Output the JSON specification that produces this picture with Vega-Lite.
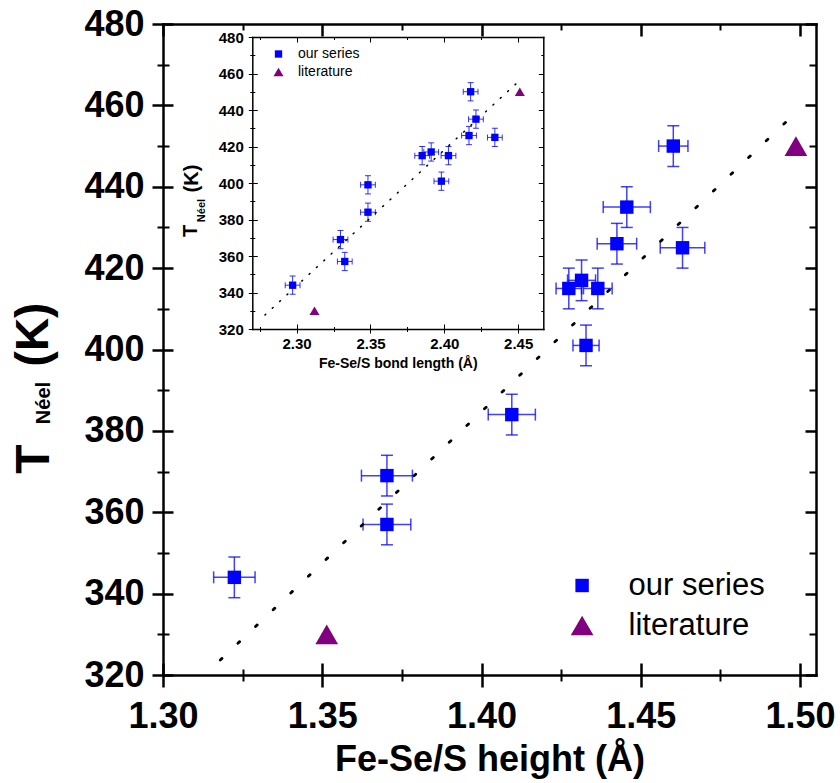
{
  "$schema": "https://vega.github.io/schema/vega-lite/v6.json",
  "width": 653,
  "height": 651,
  "autosize": {"type": "none"},
  "padding": {"left": 163, "top": 24, "right": 24, "bottom": 108},
  "background": "white",
  "config": {
    "view": {"stroke": null},
    "axis": {"grid": false, "labelFont": "Liberation Sans", "titleFont": "Liberation Sans", "labelColor": "black", "titleColor": "black", "tickColor": "black", "domainColor": "black", "labelFlush": false, "labelOverlap": false}
  },
  "datasets": {
    "mainOurs": [
      {"x": 1.3224, "y": 344, "xlo": 1.3159, "xhi": 1.3289, "ylo": 339, "yhi": 349},
      {"x": 1.3703, "y": 369, "xlo": 1.3623, "xhi": 1.3783, "ylo": 364, "yhi": 374},
      {"x": 1.3703, "y": 357, "xlo": 1.3628, "xhi": 1.3778, "ylo": 352, "yhi": 362},
      {"x": 1.4095, "y": 384, "xlo": 1.4021, "xhi": 1.4169, "ylo": 379, "yhi": 389},
      {"x": 1.4328, "y": 401, "xlo": 1.4287, "xhi": 1.4369, "ylo": 396, "yhi": 406},
      {"x": 1.4274, "y": 415, "xlo": 1.4234, "xhi": 1.4314, "ylo": 410, "yhi": 420},
      {"x": 1.4314, "y": 417, "xlo": 1.4270, "xhi": 1.4358, "ylo": 412, "yhi": 422},
      {"x": 1.4365, "y": 415, "xlo": 1.4320, "xhi": 1.4410, "ylo": 410, "yhi": 420},
      {"x": 1.4425, "y": 426, "xlo": 1.4363, "xhi": 1.4487, "ylo": 421, "yhi": 431},
      {"x": 1.4456, "y": 435, "xlo": 1.4382, "xhi": 1.4530, "ylo": 430, "yhi": 440},
      {"x": 1.4602, "y": 450, "xlo": 1.4556, "xhi": 1.4648, "ylo": 445, "yhi": 455},
      {"x": 1.4631, "y": 425, "xlo": 1.4561, "xhi": 1.4701, "ylo": 420, "yhi": 430}
    ],
    "mainPts": [
      {"x": 1.3224, "y": 344, "series": "our series"},
      {"x": 1.3703, "y": 369, "series": "our series"},
      {"x": 1.3703, "y": 357, "series": "our series"},
      {"x": 1.4095, "y": 384, "series": "our series"},
      {"x": 1.4328, "y": 401, "series": "our series"},
      {"x": 1.4274, "y": 415, "series": "our series"},
      {"x": 1.4314, "y": 417, "series": "our series"},
      {"x": 1.4365, "y": 415, "series": "our series"},
      {"x": 1.4425, "y": 426, "series": "our series"},
      {"x": 1.4456, "y": 435, "series": "our series"},
      {"x": 1.4602, "y": 450, "series": "our series"},
      {"x": 1.4631, "y": 425, "series": "our series"},
      {"x": 1.3514, "y": 330, "series": "literature"},
      {"x": 1.4987, "y": 450, "series": "literature"}
    ],
    "mainFit": [{"x": 1.318, "y": 323.7}, {"x": 1.5, "y": 459.2}],
    "insetOurs": [
      {"x": 2.2973, "y": 344, "xlo": 2.2923, "xhi": 2.3023, "ylo": 339, "yhi": 349},
      {"x": 2.3297, "y": 369, "xlo": 2.3247, "xhi": 2.3347, "ylo": 364, "yhi": 374},
      {"x": 2.3326, "y": 357, "xlo": 2.3276, "xhi": 2.3376, "ylo": 352, "yhi": 362},
      {"x": 2.3483, "y": 399, "xlo": 2.3433, "xhi": 2.3533, "ylo": 394, "yhi": 404},
      {"x": 2.3483, "y": 384, "xlo": 2.3433, "xhi": 2.3533, "ylo": 379, "yhi": 389},
      {"x": 2.3850, "y": 415, "xlo": 2.3800, "xhi": 2.3900, "ylo": 410, "yhi": 420},
      {"x": 2.3911, "y": 417, "xlo": 2.3861, "xhi": 2.3961, "ylo": 412, "yhi": 422},
      {"x": 2.4028, "y": 415, "xlo": 2.3978, "xhi": 2.4078, "ylo": 410, "yhi": 420},
      {"x": 2.3980, "y": 401, "xlo": 2.3930, "xhi": 2.4030, "ylo": 396, "yhi": 406},
      {"x": 2.4167, "y": 426, "xlo": 2.4117, "xhi": 2.4217, "ylo": 421, "yhi": 431},
      {"x": 2.4214, "y": 435, "xlo": 2.4164, "xhi": 2.4264, "ylo": 430, "yhi": 440},
      {"x": 2.4178, "y": 450, "xlo": 2.4128, "xhi": 2.4228, "ylo": 445, "yhi": 455},
      {"x": 2.4342, "y": 425, "xlo": 2.4292, "xhi": 2.4392, "ylo": 420, "yhi": 430}
    ],
    "insetPts": [
      {"x": 2.2973, "y": 344, "series": "our series"},
      {"x": 2.3297, "y": 369, "series": "our series"},
      {"x": 2.3326, "y": 357, "series": "our series"},
      {"x": 2.3483, "y": 399, "series": "our series"},
      {"x": 2.3483, "y": 384, "series": "our series"},
      {"x": 2.3850, "y": 415, "series": "our series"},
      {"x": 2.3911, "y": 417, "series": "our series"},
      {"x": 2.4028, "y": 415, "series": "our series"},
      {"x": 2.3980, "y": 401, "series": "our series"},
      {"x": 2.4167, "y": 426, "series": "our series"},
      {"x": 2.4214, "y": 435, "series": "our series"},
      {"x": 2.4178, "y": 450, "series": "our series"},
      {"x": 2.4342, "y": 425, "series": "our series"},
      {"x": 2.3121, "y": 330, "series": "literature"},
      {"x": 2.4511, "y": 450, "series": "literature"}
    ],
    "insetFit": [{"x": 2.2786, "y": 327.7}, {"x": 2.4522, "y": 457.1}]
  },
  "resolve": {"scale": {"x": "independent", "y": "independent", "color": "independent", "shape": "independent", "size": "independent"}},
  "layer": [
    {
      "resolve": {"axis": {"x": "independent", "y": "independent"}},
      "layer": [
        {
          "data": {"name": "mainOurs"},
          "mark": {"type": "rule", "color": "#0000ff", "strokeWidth": 1.5, "opacity": 0.75},
          "encoding": {
            "x": {"field": "x", "type": "quantitative", "scale": {"domain": [1.3, 1.505], "nice": false, "zero": false},
              "axis": {"orient": "bottom", "values": [1.3, 1.35, 1.4, 1.45, 1.5], "format": ".2f", "tickSize": 12, "tickWidth": 2.5, "domain": true, "domainWidth": 2.5, "domainCap": "square", "labelFontSize": 36, "labelFontWeight": "bold", "labelPadding": 12, "title": "Fe-Se/S height (Å)", "titleFontSize": 36, "titleFontWeight": "bold", "titlePadding": 8}},
            "y": {"field": "ylo", "type": "quantitative", "scale": {"domain": [320, 480], "nice": false, "zero": false},
              "axis": {"orient": "left", "values": [320, 340, 360, 380, 400, 420, 440, 460, 480], "tickSize": 11, "tickWidth": 2.5, "domain": true, "domainWidth": 2.5, "domainCap": "square", "labelFontSize": 36, "labelFontWeight": "bold", "labelPadding": 8, "title": "T", "titleFontSize": 48, "titleFontWeight": "bold", "titleAngle": -90, "titleX": -115, "titleY": 434.5, "titleAlign": "center", "titleBaseline": "alphabetic"}},
            "y2": {"field": "yhi"}
          }
        },
        {
          "data": {"name": "mainOurs"},
          "mark": {"type": "rule", "color": "#0000ff", "strokeWidth": 1.5, "opacity": 0.75},
          "encoding": {
            "x": {"field": "xlo", "type": "quantitative", "scale": {"domain": [1.3, 1.505], "nice": false, "zero": false},
              "axis": {"orient": "bottom", "values": [1.3, 1.35, 1.4, 1.45, 1.5], "tickSize": -12, "tickWidth": 2.5, "domain": false, "labels": false, "title": null}},
            "x2": {"field": "xhi"},
            "y": {"field": "y", "type": "quantitative", "scale": {"domain": [320, 480], "nice": false, "zero": false},
              "axis": {"orient": "left", "values": [320, 340, 360, 380, 400, 420, 440, 460, 480], "tickSize": -10, "tickWidth": 2.5, "domain": false, "labels": false, "title": "(K)", "titleFontSize": 46, "titleFontWeight": "bold", "titleAngle": -90, "titleX": -116, "titleY": 310, "titleAlign": "center", "titleBaseline": "alphabetic"}}
          }
        },
        {
          "data": {"name": "mainOurs"},
          "mark": {"type": "tick", "orient": "horizontal", "color": "#0000ff", "size": 12, "thickness": 1.5, "opacity": 0.75},
          "encoding": {
            "x": {"field": "x", "type": "quantitative", "scale": {"domain": [1.3, 1.505], "nice": false, "zero": false},
              "axis": {"orient": "bottom", "values": [1.325, 1.375, 1.425, 1.475], "tickSize": 6, "tickWidth": 2, "domain": false, "labels": false, "title": null}},
            "y": {"field": "ylo", "type": "quantitative", "scale": {"domain": [320, 480], "nice": false, "zero": false},
              "axis": {"orient": "left", "values": [330, 350, 370, 390, 410, 430, 450, 470], "tickSize": 6, "tickWidth": 2, "domain": false, "labels": false, "title": "Néel", "titleFontSize": 20, "titleFontWeight": "bold", "titleAngle": -90, "titleX": -114, "titleY": 378.5, "titleAlign": "center", "titleBaseline": "alphabetic"}}
          }
        },
        {
          "data": {"name": "mainOurs"},
          "mark": {"type": "tick", "orient": "horizontal", "color": "#0000ff", "size": 12, "thickness": 1.5, "opacity": 0.75},
          "encoding": {
            "x": {"field": "x", "type": "quantitative", "scale": {"domain": [1.3, 1.505], "nice": false, "zero": false},
              "axis": {"orient": "bottom", "values": [1.325, 1.375, 1.425, 1.475], "tickSize": -6, "tickWidth": 2, "domain": false, "labels": false, "title": null}},
            "y": {"field": "yhi", "type": "quantitative", "scale": {"domain": [320, 480], "nice": false, "zero": false},
              "axis": {"orient": "left", "values": [330, 350, 370, 390, 410, 430, 450, 470], "tickSize": -6, "tickWidth": 2, "domain": false, "labels": false, "title": null}}
          }
        },
        {
          "data": {"name": "mainOurs"},
          "mark": {"type": "tick", "orient": "vertical", "color": "#0000ff", "size": 12, "thickness": 1.5, "opacity": 0.75},
          "encoding": {
            "x": {"field": "xlo", "type": "quantitative", "scale": {"domain": [1.3, 1.505], "nice": false, "zero": false},
              "axis": {"orient": "top", "values": [1.3, 1.35, 1.4, 1.45, 1.5], "tickSize": -12, "tickWidth": 2.5, "domain": true, "domainWidth": 2.5, "domainCap": "square", "labels": false, "title": null}},
            "y": {"field": "y", "type": "quantitative", "scale": {"domain": [320, 480], "nice": false, "zero": false},
              "axis": {"orient": "right", "values": [320, 340, 360, 380, 400, 420, 440, 460, 480], "tickSize": -11, "tickWidth": 2.5, "domain": true, "domainWidth": 2.5, "domainCap": "square", "labels": false, "title": null}}
          }
        },
        {
          "data": {"name": "mainOurs"},
          "mark": {"type": "tick", "orient": "vertical", "color": "#0000ff", "size": 12, "thickness": 1.5, "opacity": 0.75},
          "encoding": {
            "x": {"field": "xhi", "type": "quantitative", "scale": {"domain": [1.3, 1.505], "nice": false, "zero": false},
              "axis": {"orient": "top", "values": [1.325, 1.375, 1.425, 1.475], "tickSize": -6, "tickWidth": 2, "domain": false, "labels": false, "title": null}},
            "y": {"field": "y", "type": "quantitative", "scale": {"domain": [320, 480], "nice": false, "zero": false},
              "axis": {"orient": "right", "values": [330, 350, 370, 390, 410, 430, 450, 470], "tickSize": -7, "tickWidth": 2, "domain": false, "labels": false, "title": null}}
          }
        },
        {
          "data": {"name": "mainFit"},
          "mark": {"type": "line", "color": "black", "strokeWidth": 2.8, "strokeDash": [2.3, 22], "strokeCap": "round"},
          "encoding": {
            "x": {"field": "x", "type": "quantitative", "scale": {"domain": [1.3, 1.505], "nice": false, "zero": false}, "axis": null},
            "y": {"field": "y", "type": "quantitative", "scale": {"domain": [320, 480], "nice": false, "zero": false}, "axis": null}
          }
        },
        {
          "data": {"name": "mainPts"},
          "mark": {"type": "point", "filled": true, "opacity": 1, "strokeWidth": 0},
          "encoding": {
            "x": {"field": "x", "type": "quantitative", "scale": {"domain": [1.3, 1.505], "nice": false, "zero": false}, "axis": null},
            "y": {"field": "y", "type": "quantitative", "scale": {"domain": [320, 480], "nice": false, "zero": false}, "axis": null},
            "color": {"field": "series", "type": "nominal", "scale": {"domain": ["our series", "literature"], "range": ["#0000ff", "#800080"]},
              "legend": {"title": null, "orient": "none", "direction": "vertical", "legendX": 403.6, "legendY": 546, "padding": 0, "labelFont": "Liberation Sans", "labelFontSize": 31, "labelColor": "black", "labelOffset": 31, "rowPadding": 8, "symbolStrokeWidth": 0, "symbolOpacity": 1}},
            "shape": {"field": "series", "type": "nominal", "scale": {"domain": ["our series", "literature"], "range": ["square", "triangle-up"]},
              "legend": {"title": null, "orient": "none", "direction": "vertical", "legendX": 403.6, "legendY": 546, "padding": 0, "labelFont": "Liberation Sans", "labelFontSize": 31, "labelColor": "black", "labelOffset": 31, "rowPadding": 8, "symbolStrokeWidth": 0, "symbolOpacity": 1}},
            "size": {"field": "series", "type": "nominal", "scale": {"domain": ["our series", "literature"], "range": [180, 515]},
              "legend": {"title": null, "orient": "none", "direction": "vertical", "legendX": 403.6, "legendY": 546, "padding": 0, "labelFont": "Liberation Sans", "labelFontSize": 31, "labelColor": "black", "labelOffset": 31, "rowPadding": 8, "symbolStrokeWidth": 0, "symbolOpacity": 1}}
          }
        }
      ]
    },
    {
      "resolve": {"axis": {"x": "independent", "y": "independent"}},
      "layer": [
        {
          "data": {"name": "insetOurs"},
          "mark": {"type": "rule", "color": "#0000ff", "strokeWidth": 1, "opacity": 0.8},
          "encoding": {
            "x": {"field": "x", "type": "quantitative", "scale": {"domain": [2.27, 2.467], "nice": false, "zero": false, "range": [89.3, 380.3]},
              "axis": {"orient": "bottom", "offset": -346, "values": [2.3, 2.35, 2.4, 2.45], "format": ".2f", "tickSize": 4, "tickWidth": 1, "domain": true, "domainWidth": 1.5, "domainCap": "square", "labelFontSize": 15, "labelFontWeight": "bold", "labelPadding": 3, "title": "Fe-Se/S bond length (Å)", "titleFontSize": 14, "titleFontWeight": "bold", "titlePadding": 5}},
            "y": {"field": "ylo", "type": "quantitative", "scale": {"domain": [320, 480], "nice": false, "zero": false, "range": [305, 13]},
              "axis": {"orient": "left", "offset": -89.3, "values": [320, 340, 360, 380, 400, 420, 440, 460, 480], "tickSize": 4, "tickWidth": 1, "domain": true, "domainWidth": 1.5, "domainCap": "square", "labelFontSize": 15, "labelFontWeight": "bold", "labelPadding": 5, "title": "T", "titleFontSize": 20, "titleFontWeight": "bold", "titleAngle": -90, "titleX": -56.3, "titleY": 206.5, "titleAlign": "center", "titleBaseline": "alphabetic"}},
            "y2": {"field": "yhi"}
          }
        },
        {
          "data": {"name": "insetOurs"},
          "mark": {"type": "rule", "color": "#0000ff", "strokeWidth": 1, "opacity": 0.8},
          "encoding": {
            "x": {"field": "xlo", "type": "quantitative", "scale": {"domain": [2.27, 2.467], "nice": false, "zero": false, "range": [89.3, 380.3]},
              "axis": {"orient": "bottom", "offset": -346, "values": [2.3, 2.35, 2.4, 2.45], "tickSize": -5, "tickWidth": 1, "domain": false, "labels": false, "title": null}},
            "x2": {"field": "xhi"},
            "y": {"field": "y", "type": "quantitative", "scale": {"domain": [320, 480], "nice": false, "zero": false, "range": [305, 13]},
              "axis": {"orient": "left", "offset": -89.3, "values": [320, 340, 360, 380, 400, 420, 440, 460, 480], "tickSize": -5, "tickWidth": 1, "domain": false, "labels": false, "title": "(K)", "titleFontSize": 20, "titleFontWeight": "bold", "titleAngle": -90, "titleX": -55, "titleY": 154, "titleAlign": "center", "titleBaseline": "alphabetic"}}
          }
        },
        {
          "data": {"name": "insetOurs"},
          "mark": {"type": "tick", "orient": "horizontal", "color": "#0000ff", "size": 6, "thickness": 1, "opacity": 0.8},
          "encoding": {
            "x": {"field": "x", "type": "quantitative", "scale": {"domain": [2.27, 2.467], "nice": false, "zero": false, "range": [89.3, 380.3]},
              "axis": {"orient": "bottom", "offset": -346, "values": [2.275, 2.325, 2.375, 2.425], "tickSize": 2.5, "tickWidth": 1, "domain": false, "labels": false, "title": null}},
            "y": {"field": "ylo", "type": "quantitative", "scale": {"domain": [320, 480], "nice": false, "zero": false, "range": [305, 13]},
              "axis": {"orient": "left", "offset": -89.3, "values": [330, 350, 370, 390, 410, 430, 450, 470], "tickSize": 2.5, "tickWidth": 1, "domain": false, "labels": false, "title": "Néel", "titleFontSize": 11, "titleFontWeight": "bold", "titleAngle": -90, "titleX": -48.3, "titleY": 186, "titleAlign": "center", "titleBaseline": "alphabetic"}}
          }
        },
        {
          "data": {"name": "insetOurs"},
          "mark": {"type": "tick", "orient": "horizontal", "color": "#0000ff", "size": 6, "thickness": 1, "opacity": 0.8},
          "encoding": {
            "x": {"field": "x", "type": "quantitative", "scale": {"domain": [2.27, 2.467], "nice": false, "zero": false, "range": [89.3, 380.3]},
              "axis": {"orient": "bottom", "offset": -346, "values": [2.275, 2.325, 2.375, 2.425], "tickSize": -2.5, "tickWidth": 1, "domain": false, "labels": false, "title": null}},
            "y": {"field": "yhi", "type": "quantitative", "scale": {"domain": [320, 480], "nice": false, "zero": false, "range": [305, 13]},
              "axis": {"orient": "left", "offset": -89.3, "values": [330, 350, 370, 390, 410, 430, 450, 470], "tickSize": -2.5, "tickWidth": 1, "domain": false, "labels": false, "title": null}}
          }
        },
        {
          "data": {"name": "insetOurs"},
          "mark": {"type": "tick", "orient": "vertical", "color": "#0000ff", "size": 6, "thickness": 1, "opacity": 0.8},
          "encoding": {
            "x": {"field": "xlo", "type": "quantitative", "scale": {"domain": [2.27, 2.467], "nice": false, "zero": false, "range": [89.3, 380.3]},
              "axis": {"orient": "top", "offset": -13, "values": [2.3, 2.35, 2.4, 2.45], "tickSize": -5, "tickWidth": 1, "domain": true, "domainWidth": 1.5, "domainCap": "square", "labels": false, "title": null}},
            "y": {"field": "y", "type": "quantitative", "scale": {"domain": [320, 480], "nice": false, "zero": false, "range": [305, 13]},
              "axis": {"orient": "right", "offset": -272.7, "values": [320, 340, 360, 380, 400, 420, 440, 460, 480], "tickSize": -5, "tickWidth": 1, "domain": true, "domainWidth": 1.5, "domainCap": "square", "labels": false, "title": null}}
          }
        },
        {
          "data": {"name": "insetOurs"},
          "mark": {"type": "tick", "orient": "vertical", "color": "#0000ff", "size": 6, "thickness": 1, "opacity": 0.8},
          "encoding": {
            "x": {"field": "xhi", "type": "quantitative", "scale": {"domain": [2.27, 2.467], "nice": false, "zero": false, "range": [89.3, 380.3]},
              "axis": {"orient": "top", "offset": -13, "values": [2.275, 2.325, 2.375, 2.425], "tickSize": -2.5, "tickWidth": 1, "domain": false, "labels": false, "title": null}},
            "y": {"field": "y", "type": "quantitative", "scale": {"domain": [320, 480], "nice": false, "zero": false, "range": [305, 13]},
              "axis": {"orient": "right", "offset": -272.7, "values": [330, 350, 370, 390, 410, 430, 450, 470], "tickSize": -2.5, "tickWidth": 1, "domain": false, "labels": false, "title": null}}
          }
        },
        {
          "data": {"name": "insetFit"},
          "mark": {"type": "line", "color": "black", "strokeWidth": 1.5, "strokeDash": [1, 9], "strokeCap": "round"},
          "encoding": {
            "x": {"field": "x", "type": "quantitative", "scale": {"domain": [2.27, 2.467], "nice": false, "zero": false, "range": [89.3, 380.3]}, "axis": null},
            "y": {"field": "y", "type": "quantitative", "scale": {"domain": [320, 480], "nice": false, "zero": false, "range": [305, 13]}, "axis": null}
          }
        },
        {
          "data": {"name": "insetPts"},
          "mark": {"type": "point", "filled": true, "opacity": 1, "strokeWidth": 0},
          "encoding": {
            "x": {"field": "x", "type": "quantitative", "scale": {"domain": [2.27, 2.467], "nice": false, "zero": false, "range": [89.3, 380.3]}, "axis": null},
            "y": {"field": "y", "type": "quantitative", "scale": {"domain": [320, 480], "nice": false, "zero": false, "range": [305, 13]}, "axis": null},
            "color": {"field": "series", "type": "nominal", "scale": {"domain": ["our series", "literature"], "range": ["#0000ff", "#800080"]},
              "legend": {"title": null, "orient": "none", "direction": "vertical", "legendX": 108.5, "legendY": 23, "padding": 0, "labelFont": "Liberation Sans", "labelFontSize": 14, "labelColor": "black", "labelOffset": 12.5, "rowPadding": 4, "symbolStrokeWidth": 0, "symbolOpacity": 1}},
            "shape": {"field": "series", "type": "nominal", "scale": {"domain": ["our series", "literature"], "range": ["square", "triangle-up"]},
              "legend": {"title": null, "orient": "none", "direction": "vertical", "legendX": 108.5, "legendY": 23, "padding": 0, "labelFont": "Liberation Sans", "labelFontSize": 14, "labelColor": "black", "labelOffset": 12.5, "rowPadding": 4, "symbolStrokeWidth": 0, "symbolOpacity": 1}},
            "size": {"field": "series", "type": "nominal", "scale": {"domain": ["our series", "literature"], "range": [54, 100]},
              "legend": {"title": null, "orient": "none", "direction": "vertical", "legendX": 108.5, "legendY": 23, "padding": 0, "labelFont": "Liberation Sans", "labelFontSize": 14, "labelColor": "black", "labelOffset": 12.5, "rowPadding": 4, "symbolStrokeWidth": 0, "symbolOpacity": 1}}
          }
        }
      ]
    }
  ]
}
